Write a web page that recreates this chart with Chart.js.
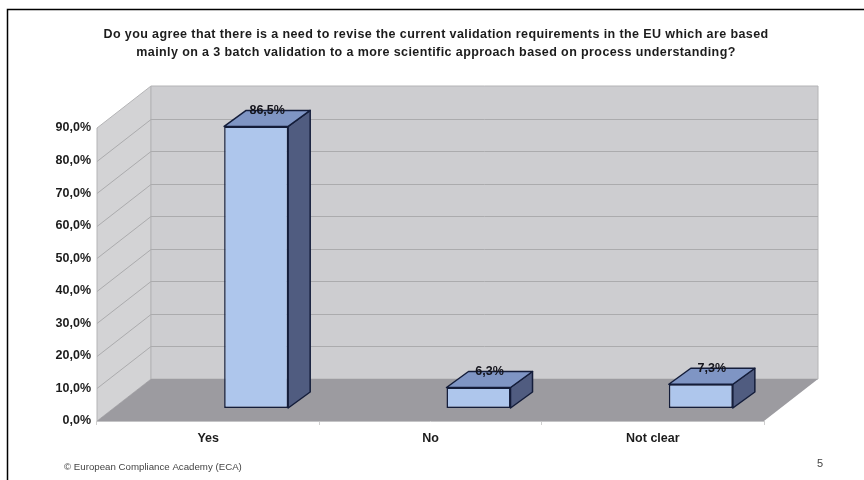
<!DOCTYPE html>
<html>
<head>
<meta charset="utf-8">
<title>Validation survey</title>
<style>
    html, body { margin: 0; padding: 0; background: #fff; }
    canvas { display: block; filter: blur(0.5px); }
</style>
<script src="https://cdn.jsdelivr.net/npm/chart.js@4/dist/chart.umd.min.js"></script>
</head>
<body>
<canvas id="chart" width="864" height="480"></canvas>
<script>
const categories = ['Yes', 'No', 'Not clear'];
const values = [86.5, 6.3, 7.3];
const valueLabels = ['86,5%', '6,3%', '7,3%'];
const yTicks = [0, 10, 20, 30, 40, 50, 60, 70, 80, 90];
const titleLines = [
    'Do you agree that there is a need to revise the current validation requirements in the EU which are based',
    'mainly on a 3 batch validation to a more scientific approach based on process understanding?'
];
const footerText = '© European Compliance Academy (ECA)';
const pageNumber = '5';

const FONT = "'Liberation Sans', Arial, sans-serif";
const TEXT = '#1c1c1c';

// depth of the fake 3D box, and of each bar inside it
const WALL_DX = 54, WALL_DY = -42;
const BAR_SHIFT_X = 48, BAR_SHIFT_Y = -13;
const BAR_DX = 22, BAR_DY = -16;

const poly = (ctx, points, fill, stroke, width) => {
    ctx.beginPath();
    points.forEach(([x, y], i) => (i ? ctx.lineTo(x, y) : ctx.moveTo(x, y)));
    ctx.closePath();
    ctx.fillStyle = fill;
    ctx.fill();
    if (stroke) {
        ctx.strokeStyle = stroke;
        ctx.lineWidth = width;
        ctx.lineJoin = 'round';
        ctx.stroke();
    }
};

// walls, floor and gridlines, positioned from the chart scales
const box3d = {
    id: 'box3d',
    beforeDatasetsDraw(chart) {
        const { ctx, chartArea: a, scales: { y } } = chart;
        const top = y.getPixelForValue(90), bottom = y.getPixelForValue(0);
        ctx.save();
        poly(ctx, [[a.left, top], [a.left + WALL_DX, top + WALL_DY], [a.left + WALL_DX, bottom + WALL_DY], [a.left, bottom]], '#d3d3d5', '#b4b4b6', 1);
        poly(ctx, [[a.left + WALL_DX, top + WALL_DY], [a.right + WALL_DX, top + WALL_DY], [a.right + WALL_DX, bottom + WALL_DY], [a.left + WALL_DX, bottom + WALL_DY]], '#cdcdd0', '#b4b4b6', 1);
        ctx.strokeStyle = '#ababad';
        ctx.lineWidth = 1;
        yTicks.slice(1, -1).forEach((v) => {
            const py = Math.round(y.getPixelForValue(v)) + 0.5;
            ctx.beginPath();
            ctx.moveTo(a.left, py);
            ctx.lineTo(a.left + WALL_DX, py + WALL_DY);
            ctx.lineTo(a.right + WALL_DX, py + WALL_DY);
            ctx.stroke();
        });
        poly(ctx, [[a.left, bottom], [a.left + WALL_DX, bottom + WALL_DY], [a.right + WALL_DX, bottom + WALL_DY], [a.right, bottom]], '#9c9ba0');
        ctx.strokeStyle = '#c4c4c6';
        ctx.beginPath();
        ctx.moveTo(a.left, bottom + 0.5);
        ctx.lineTo(a.right, bottom + 0.5);
        ctx.stroke();

        // side and top faces of the bars
        chart.getDatasetMeta(0).data.forEach((bar) => {
            const l = bar.x - bar.width / 2 + BAR_SHIFT_X, r = l + bar.width;
            const t = bar.y + BAR_SHIFT_Y, b = bar.base + BAR_SHIFT_Y;
            poly(ctx, [[r, t], [r + BAR_DX, t + BAR_DY], [r + BAR_DX, b + BAR_DY], [r, b]], '#505c80', '#141d3a', 1.5);
            poly(ctx, [[l, t], [l + BAR_DX, t + BAR_DY], [r + BAR_DX, t + BAR_DY], [r, t]], '#7f95c4', '#141d3a', 1.5);
        });
        ctx.restore();
    },
    beforeDatasetDraw(chart) {
        chart.ctx.save();
        chart.ctx.translate(BAR_SHIFT_X, BAR_SHIFT_Y);
    },
    afterDatasetDraw(chart) {
        chart.ctx.restore();
    },
    afterDatasetsDraw(chart) {
        const { ctx } = chart;
        ctx.save();
        ctx.fillStyle = '#14141c';
        ctx.font = 'bold 12.5px ' + FONT;
        ctx.textAlign = 'center';
        ctx.textBaseline = 'middle';
        chart.getDatasetMeta(0).data.forEach((bar, i) => {
            ctx.fillText(valueLabels[i], bar.x + BAR_SHIFT_X + 11, bar.y + BAR_SHIFT_Y + BAR_DY + 0.5);
        });
        ctx.restore();
    }
};

// slide furniture: frame, title and footer
const slide = {
    id: 'slide',
    beforeDraw(chart) {
        const { ctx, width, height } = chart;
        ctx.save();
        ctx.strokeStyle = '#000';
        ctx.lineWidth = 1.5;
        ctx.beginPath();
        ctx.moveTo(7.5, height);
        ctx.lineTo(7.5, 9.5);
        ctx.lineTo(width, 9.5);
        ctx.stroke();

        ctx.fillStyle = TEXT;
        ctx.textAlign = 'center';
        ctx.textBaseline = 'middle';
        ctx.font = 'bold 12.5px ' + FONT;
        ctx.letterSpacing = '0.4px';
        titleLines.forEach((line, i) => ctx.fillText(line, 436, 34.5 + i * 18));
        ctx.letterSpacing = '0px';

        ctx.fillStyle = '#444';
        ctx.textAlign = 'left';
        ctx.font = '9.7px ' + FONT;
        ctx.fillText(footerText, 64, 467);
        ctx.font = '11px ' + FONT;
        ctx.fillText(pageNumber, 817, 463.5);
        ctx.restore();
    }
};

new Chart(document.getElementById('chart'), {
    type: 'bar',
    data: {
        labels: categories,
        datasets: [{
            data: values,
            backgroundColor: '#aec6ec',
            borderColor: '#141d3a',
            borderWidth: 1.5,
            borderSkipped: false,
            barPercentage: 1,
            categoryPercentage: 0.288,
            clip: false
        }]
    },
    options: {
        responsive: false,
        animation: false,
        layout: { padding: { top: 128, right: 100, left: 0, bottom: 0 } },
        plugins: { legend: { display: false }, tooltip: { enabled: false } },
        scales: {
            x: {
                afterFit: (scale) => { scale.height = 59; },
                grid: { drawOnChartArea: false, color: '#cfcfcf', tickLength: 4 },
                border: { display: false },
                ticks: { color: TEXT, font: { family: FONT, size: 12.5, weight: 'bold' }, padding: 6, maxRotation: 0 }
            },
            y: {
                min: 0,
                max: 90,
                afterFit: (scale) => { scale.width = 97; },
                afterBuildTicks: (scale) => { scale.ticks = yTicks.map((value) => ({ value })); },
                grid: { display: false, drawTicks: false, tickLength: 0 },
                border: { display: false },
                ticks: {
                    color: TEXT,
                    font: { family: FONT, size: 12.5, weight: 'bold' },
                    padding: 6,
                    callback: (v) => v.toFixed(1).replace('.', ',') + '%'
                }
            }
        }
    },
    plugins: [slide, box3d]
});
</script>
</body>
</html>
